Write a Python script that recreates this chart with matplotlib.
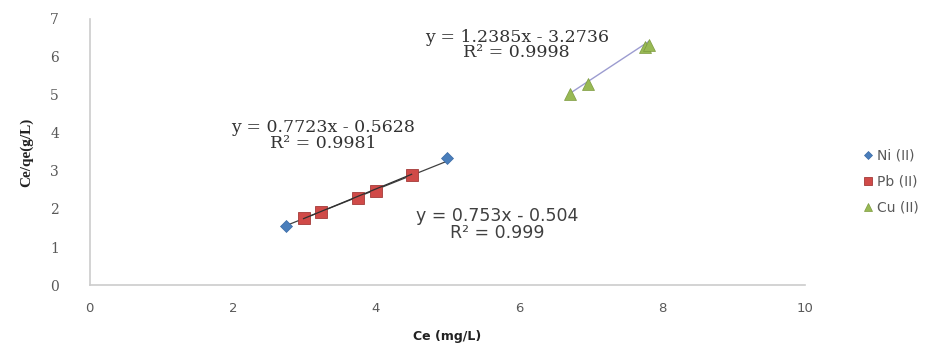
import numpy as np
import matplotlib
matplotlib.use('Agg')
from matplotlib import pyplot as plt

# data
ni_x = [2.74, 4.99]
ni_y = [1.56, 3.33]
pb_x = [2.99, 3.23, 3.75, 4.00, 4.50]
pb_y = [1.76, 1.93, 2.30, 2.48, 2.90]
cu_x = [6.71, 6.97, 7.76, 7.82]
cu_y = [5.03, 5.30, 6.26, 6.32]

ni_fit = (0.753, -0.504)
pb_fit = (0.7723, -0.5628)
cu_fit = (1.2385, -3.2736)

x_ticks = [0, 2, 4, 6, 8, 10]
y_ticks = [0, 1, 2, 3, 4, 5, 6, 7]

grey = '#595959'

fig = plt.figure(figsize=(9.34, 3.43), dpi=100)
ax = fig.add_axes([0.096, 0.169, 0.766, 0.776])

# trend lines
xs = np.array([ni_x[0], ni_x[-1]])
ax.plot(xs, ni_fit[0] * xs + ni_fit[1], color='#404040', lw=0.9, zorder=2)
xs = np.array([pb_x[0], pb_x[-1]])
ax.plot(xs, pb_fit[0] * xs + pb_fit[1], color='#303030', lw=0.9, zorder=4)
xs = np.array([cu_x[0], cu_x[-1]])
ax.plot(xs, cu_fit[0] * xs + cu_fit[1], color='#9c9cd0', lw=1.0, zorder=2)

ax.plot(ni_x, ni_y, 'D', color='#4a7ebb', ms=6, mec='#3a6aa5', mew=0.5,
        label='Ni (II)', zorder=3)
ax.plot(pb_x, pb_y, 's', color='#d04a48', ms=9, mec='#a33a38', mew=0.6,
        label='Pb (II)', zorder=3)
ax.plot(cu_x, cu_y, '^', color='#98b954', ms=9, mec='#7c9a3e', mew=0.5,
        label='Cu (II)', zorder=3)

ax.set_xlim(0, 10)
ax.set_ylim(0, 7)
ax.set_xticks(x_ticks)
ax.set_yticks(y_ticks)
ax.tick_params(length=0, labelsize=9, colors=grey)
ax.tick_params(axis='x', pad=12)
ax.tick_params(axis='y', pad=22)
for lab in ax.get_yticklabels():
    lab.set_fontfamily('DejaVu Serif')
    lab.set_fontsize(10)
for lab in ax.get_xticklabels():
    lab.set_fontfamily('DejaVu Sans')
    lab.set_fontsize(9.5)
for s in ['top', 'right']:
    ax.spines[s].set_visible(False)
for s in ['left', 'bottom']:
    ax.spines[s].set_color('#cccccc')
    ax.spines[s].set_linewidth(1.2)

ax.set_xlabel('Ce (mg/L)', fontsize=9, fontweight='bold', family='DejaVu Sans',
              color='#222222', labelpad=11)
ax.set_ylabel('Ce/qe(g/L)', fontsize=11, fontweight='bold',
              family='Liberation Serif', color='#222222', labelpad=12)

ax.text(3.26, 3.93, 'y = 0.7723x - 0.5628\nR² = 0.9981', ha='center',
        va='center', fontsize=12.5, family='DejaVu Serif', color='#333333',
        linespacing=0.9)
ax.text(5.69, 1.59, 'y = 0.753x - 0.504\nR² = 0.999', ha='center',
        va='center', fontsize=12.5, family='DejaVu Sans', color='#404040',
        linespacing=0.95)
ax.text(5.97, 6.31, 'y = 1.2385x - 3.2736\nR² = 0.9998', ha='center',
        va='center', fontsize=12.5, family='DejaVu Serif', color='#333333',
        linespacing=0.9)

fig.legend(loc='center left', bbox_to_anchor=(0.917, 0.47), frameon=False,
           labelcolor=grey, handlelength=0.7, handletextpad=0.3,
           labelspacing=0.85, borderpad=0, markerscale=0.7,
           prop={'family': 'DejaVu Sans', 'size': 10})

fig.savefig('out.png', dpi=100)
